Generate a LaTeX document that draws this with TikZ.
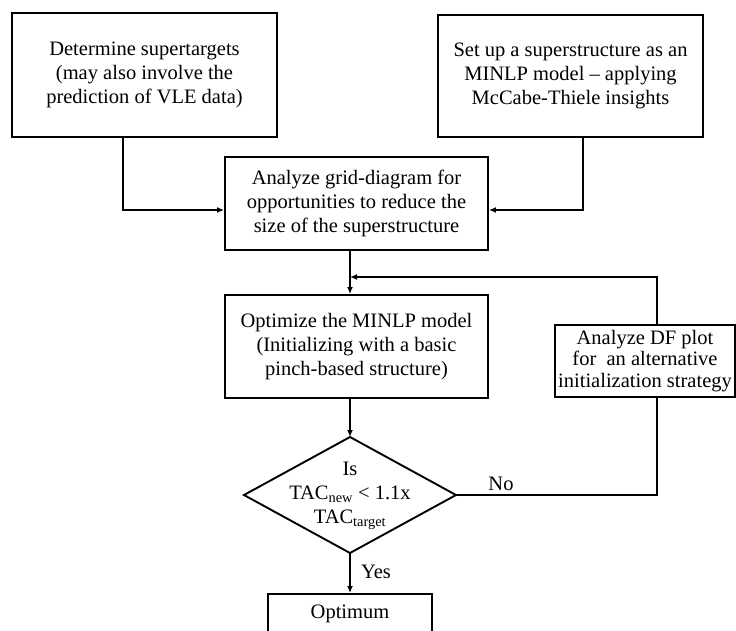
\documentclass[tikz,border=0pt]{standalone}
\usepackage{fontspec}
\setmainfont{Liberation Serif}
\usetikzlibrary{shapes.geometric,arrows.meta}
\begin{document}
\begin{tikzpicture}[x=1pt,y=-1pt,
  txt/.style={font=\fontsize{20.5}{24}\selectfont, align=center, inner sep=0pt},
  box/.style={txt, draw, line width=1.9pt},
  arr/.style={line width=1.9pt, -{Latex[length=7pt,width=6pt]}},
  ln/.style={line width=1.9pt}]
\useasboundingbox (0,0) rectangle (736,630);
\node[box, minimum width=265pt, minimum height=124pt] (b1) at (144.5,75)
  {Determine supertargets\\(may also involve the\\prediction of VLE data)};
\node[box, minimum width=265pt, minimum height=122pt] (b2) at (570.5,76)
  {Set up a superstructure as an\\MINLP model -- applying\\McCabe-Thiele insights};
\node[box, minimum width=263pt, minimum height=93pt] (b3) at (356.5,203.5)
  {Analyze grid-diagram for\\opportunities to reduce the\\size of the superstructure};
\node[box, minimum width=263pt, minimum height=103pt] (b4) at (356.5,346.5)
  {Optimize the MINLP model\\(Initializing with a basic\\pinch-based structure)};
\node[box, font=\fontsize{20.5}{21.5}\selectfont, minimum width=180pt, minimum height=72pt] (b5) at (645,361)
  {Analyze DF plot\\for\ \ an alternative\\initialization strategy};
\node[diamond, draw, line width=1.9pt, inner sep=0pt, outer sep=0pt,
  minimum width=212pt, minimum height=116pt] (d) at (350,495) {};
\node[txt] (dt) at (350,496)
  {Is\\TAC\textsubscript{new} < 1.1x\\TAC\textsubscript{target}};
\node[box, anchor=north, minimum width=164pt, minimum height=40pt] (b6) at (350,593) {Optimum};
\node[txt] (no) at (501,484) {No};
\node[txt] (yes) at (376,572) {Yes};
\coordinate (j1) at (123,210);
\coordinate (j2) at (583,210);
\coordinate (j3) at (350,277);
\coordinate (j5) at (657,277);
\draw[arr] (b1.south -| j1) |- (b3.west |- j1);
\draw[arr] (b2.south -| j2) |- (b3.east |- j2);
\draw[arr] (b3.south -| j3) -- (b4.north -| j3);
\draw[arr] (b5.north -| j5) |- (j3);
\draw[arr] (b4.south -| j3) -- (d.north);
\draw[ln] (d.east) -| (b5.south -| j5);
\draw[arr] (d.south) -- (b6.north);
\end{tikzpicture}
\end{document}
